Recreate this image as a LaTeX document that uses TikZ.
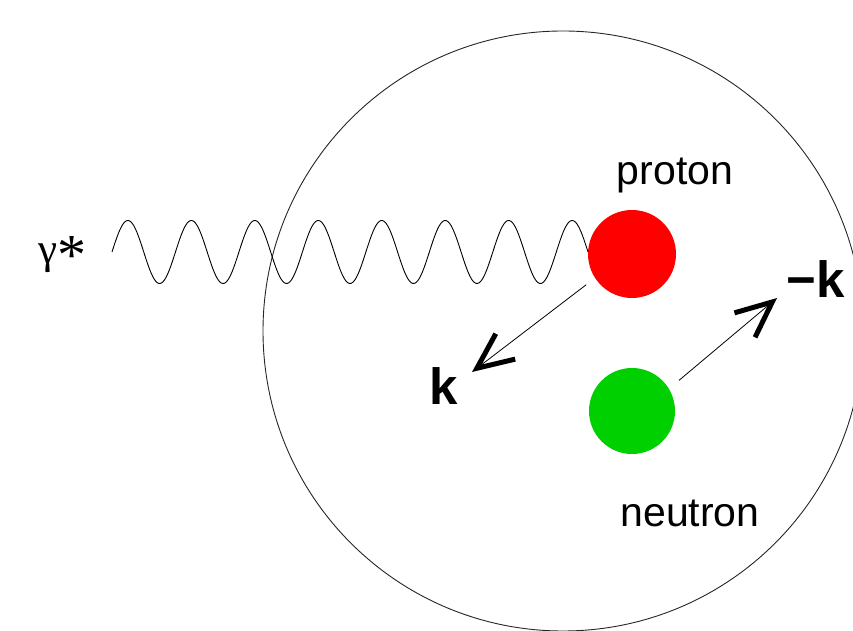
\documentclass[tikz,border=0pt]{standalone}
\usepackage{fontspec}
\setmainfont{Liberation Sans}
\newfontfamily\greekfont{Liberation Serif}
\usetikzlibrary{arrows.meta,positioning,calc}
\definecolor{protonred}{RGB}{255,0,0}
\definecolor{neutrongreen}{RGB}{0,208,0}
\tikzset{
  nucleon/.style={circle,inner sep=0pt},
  momentum/.style={line width=0.8pt,-{Straight Barb[length=36pt,width=32pt,line width=5pt 0]}},
  lbl/.style={font=\fontsize{41}{48}\selectfont,inner sep=0pt,anchor=base},
  klbl/.style={font=\fontsize{51}{60}\selectfont\bfseries,inner sep=0pt,anchor=base}
}
\begin{document}
\begin{tikzpicture}[x=1pt,y=1pt]
  \clip (0,0) rectangle (853,631);
  % nucleus
  \draw[line width=0.9pt,black!85] (563,300) circle[radius=300pt];
  \node[nucleon,fill=protonred,minimum size=88pt] (proton) at (632,377) {};
  \node[nucleon,fill=neutrongreen,minimum size=86pt] (neutron) at (632,220) {};
  \node[lbl] (protonlabel) at (675,446) {proton};
  \node[lbl] (neutronlabel) at (690,104) {neutron};
  % virtual photon
  \coordinate (wavestart) at (112,379);
  \draw[line width=0.9pt,domain=112:588,samples=400,smooth]
    plot (\x,{379+31.5*sin((\x-112)/63.47*360)});
  \node[anchor=base,inner sep=0pt,font=\greekfont\fontsize{43}{50}\selectfont] (gamma) at (63,367) {γ\raisebox{-0.25em}{\scalebox{1.35}{*}}};
  % momenta
  \node[klbl] (klabel) at (444,226) {k};
  \node[klbl] (mklabel) at (816,333) {−k};
  \coordinate (ktip) at (472,259);
  \coordinate (mktip) at (777,333);
  \draw[momentum,shorten <=11pt] (proton.213) -- (ktip);
  \draw[momentum,shorten <=13pt] (neutron.31) -- (mktip);
\end{tikzpicture}
\end{document}
